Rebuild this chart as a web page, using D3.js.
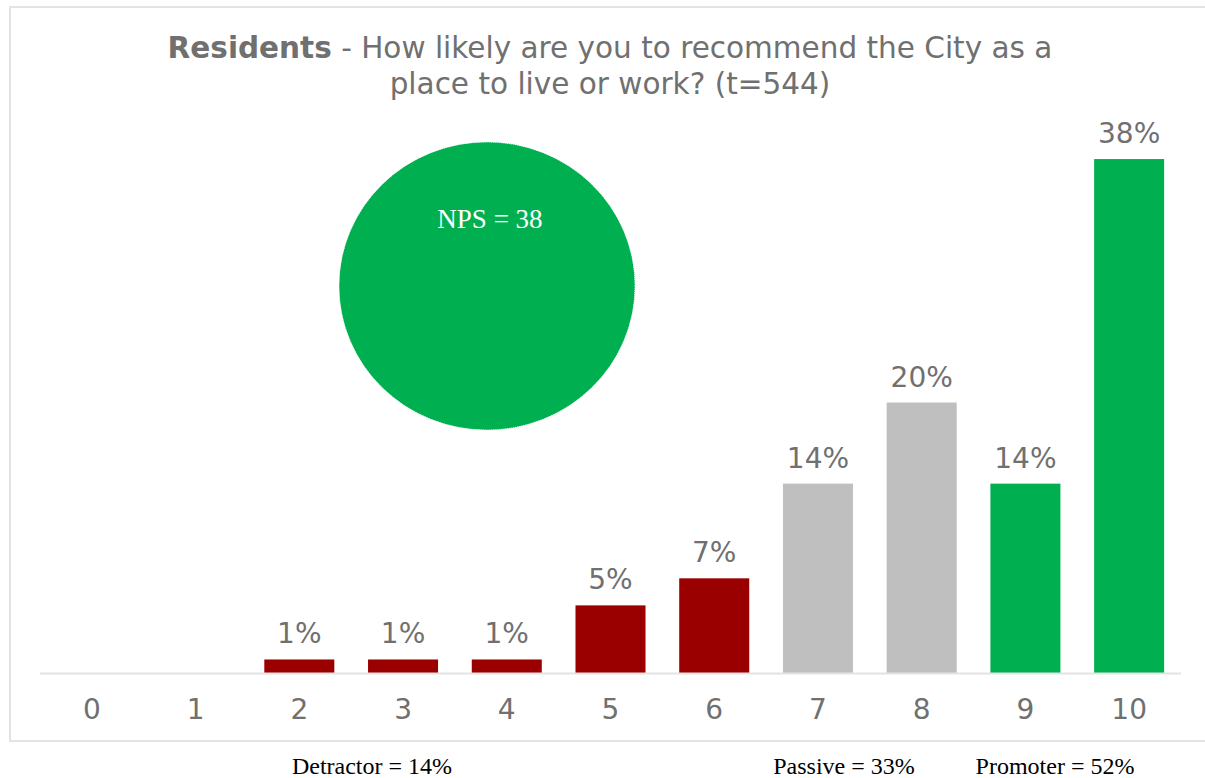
<!DOCTYPE html>
<html>
<head>
<meta charset="utf-8">
<script src="https://cdn.jsdelivr.net/npm/d3@7"></script>
<style>
  html, body { margin: 0; padding: 0; background: #ffffff; }
  svg { display: block; }
</style>
</head>
<body>
<svg id="chart" width="1205" height="778"></svg>
<script>
// ---- data ----
const categories = ["0", "1", "2", "3", "4", "5", "6", "7", "8", "9", "10"];
const values = [0, 0, 1, 1, 1, 5, 7, 14, 20, 14, 38];
const valueLabels = ["", "", "1%", "1%", "1%", "5%", "7%", "14%", "20%", "14%", "38%"];
const groups = ["detractor", "detractor", "detractor", "detractor", "detractor", "detractor", "detractor", "passive", "passive", "promoter", "promoter"];
const summaryLabels = ["Detractor = 14%", "Passive = 33%", "Promoter = 52%"];
const npsLabel = "NPS = 38";
const titleBold = "Residents";
const titleRest1 = " - How likely are you to recommend the City as a";
const titleLine2 = "place to live or work? (t=544)";

const colors = { detractor: "#9a0000", passive: "#bfbfbf", promoter: "#00b050" };
const textGray = "#707070";

const svg = d3.select("#chart");

// frame
svg.append("rect")
  .attr("x", 10).attr("y", 7)
  .attr("width", 1205).attr("height", 734)
  .attr("fill", "#ffffff")
  .attr("stroke", "#e3e3e3").attr("stroke-width", 2);

// scales
const x = d3.scaleBand().domain(categories).range([40, 1181]).paddingInner(0.325).paddingOuter(0.1625);
const y = d3.scaleLinear().domain([0, 40]).range([673, 132]);

// title
const title = svg.append("text")
  .attr("text-anchor", "middle")
  .attr("font-family", "DejaVu Sans, Verdana, sans-serif")
  .attr("font-size", 29.5)
  .attr("fill", textGray);
const l1 = title.append("tspan").attr("x", 610).attr("y", 58);
l1.append("tspan").attr("font-weight", "bold").text(titleBold);
l1.append("tspan").text(titleRest1);
title.append("tspan").attr("x", 610).attr("y", 94).text(titleLine2);

// NPS ellipse
svg.append("ellipse")
  .attr("cx", 487).attr("cy", 286)
  .attr("rx", 148).attr("ry", 144)
  .attr("fill", "#00b050")
  .attr("stroke", "#ffffff").attr("stroke-width", 1).attr("stroke-dasharray", "1 1");
svg.append("text")
  .attr("x", 490).attr("y", 228)
  .attr("text-anchor", "middle")
  .attr("font-family", "Liberation Serif, Times New Roman, serif")
  .attr("font-size", 27)
  .attr("fill", "#ffffff")
  .text(npsLabel);

// bars
svg.append("g").selectAll("rect")
  .data(categories)
  .join("rect")
  .attr("x", (d) => x(d))
  .attr("y", (d, i) => y(values[i]))
  .attr("width", x.bandwidth())
  .attr("height", (d, i) => y(0) - y(values[i]))
  .attr("fill", (d, i) => colors[groups[i]]);

// value labels
svg.append("g").selectAll("text")
  .data(categories)
  .join("text")
  .attr("x", (d) => x(d) + x.bandwidth() / 2)
  .attr("y", (d, i) => y(values[i]) - 16)
  .attr("text-anchor", "middle")
  .attr("font-family", "DejaVu Sans, Verdana, sans-serif")
  .attr("font-size", 28)
  .attr("fill", textGray)
  .text((d, i) => valueLabels[i]);

// x axis
const xAxis = svg.append("g")
  .attr("transform", `translate(0,${y(0)})`)
  .call(d3.axisBottom(x).tickSize(0).tickPadding(26));
xAxis.select(".domain").attr("stroke", "#e3e3e3").attr("stroke-width", 2)
  .attr("d", "M40,0.5H1181");
xAxis.selectAll("text")
  .attr("font-family", "DejaVu Sans, Verdana, sans-serif")
  .attr("font-size", 28)
  .attr("fill", textGray)
  .attr("dy", "0.71em");

// summary labels below frame
const summaryX = [372, 844, 1055];
svg.append("g").selectAll("text")
  .data(summaryLabels)
  .join("text")
  .attr("x", (d, i) => summaryX[i])
  .attr("y", 774)
  .attr("text-anchor", "middle")
  .attr("font-family", "Liberation Serif, Times New Roman, serif")
  .attr("font-size", 24)
  .attr("fill", "#000000")
  .text((d) => d);
</script>
</body>
</html>
